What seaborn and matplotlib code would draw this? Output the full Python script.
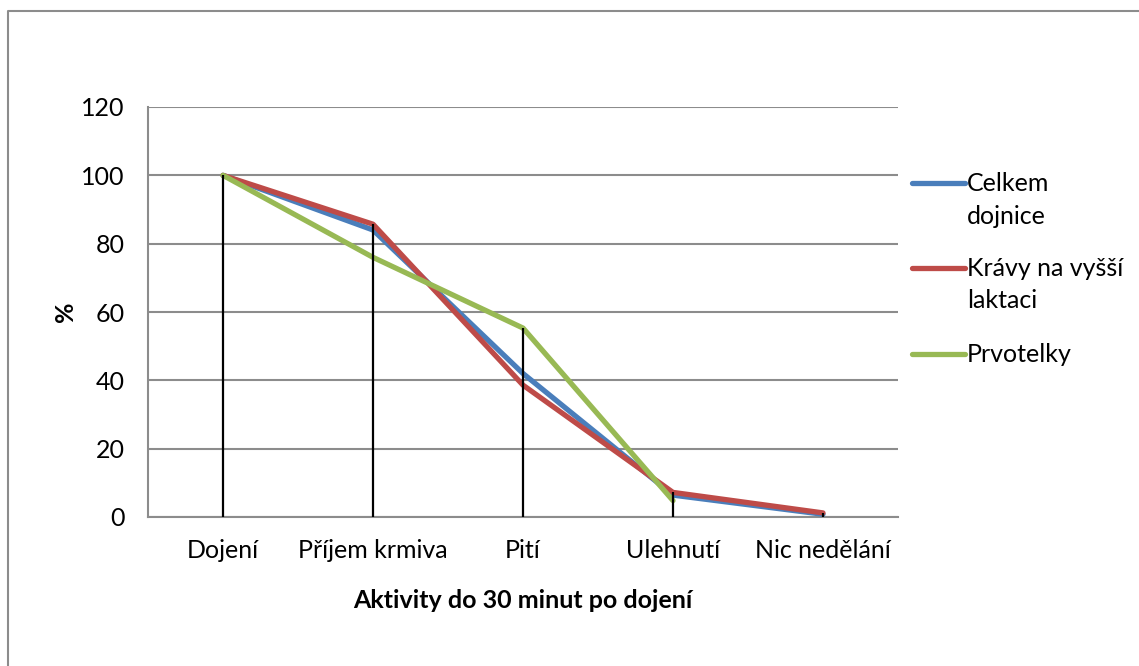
import matplotlib
matplotlib.use("Agg")
import matplotlib.pyplot as plt
from matplotlib.lines import Line2D
import numpy as np
import pandas as pd
import seaborn as sns

categories = ["Dojení", "Příjem krmiva", "Pití", "Ulehnutí", "Nic nedělání"]
celkem = [100, 84, 42, 6.4, 0.8]
kravy = [100, 85.7, 38.6, 7.2, 1.2]
prvotelky = [100, 76, 55.3, 4.8, np.nan]
series_names = ["Celkem dojnice", "Krávy na vyšší laktaci", "Prvotelky"]
legend_lines = [["Celkem", "dojnice"], ["Krávy na vyšší", "laktaci"], ["Prvotelky"]]
colors = ["#4a7ebb", "#be4b48", "#98b954"]
yticks = [0, 20, 40, 60, 80, 100, 120]

rows = []
for name, vals in zip(series_names, [celkem, kravy, prvotelky]):
    for i, (c, v) in enumerate(zip(categories, vals)):
        rows.append({"x": i, "kat": c, "val": v, "serie": name})
df = pd.DataFrame(rows)

sns.set_style("white")
plt.rcParams["font.family"] = ["Lato", "DejaVu Sans"]
plt.rcParams["text.color"] = "black"
plt.rcParams["xtick.color"] = "black"
plt.rcParams["ytick.color"] = "black"
plt.rcParams["axes.labelcolor"] = "black"

FS = 18
W, H = 1139, 666
fig = plt.figure(figsize=(W / 100, H / 100), dpi=100)
ax = fig.add_axes([148 / W, 1 - 517 / H, 750 / W, 410 / H])

sns.lineplot(data=df.dropna(), x="x", y="val", hue="serie", palette=colors,
             hue_order=series_names, lw=3.8, ax=ax, legend=False,
             solid_joinstyle="round", solid_capstyle="round", zorder=3)

maxv = df.groupby("x")["val"].max()
ax.vlines(maxv.index, 0, maxv.values, colors="black", lw=1.6, zorder=4)

ax.set_xlim(-0.5, len(categories) - 0.5)
ax.set_ylim(0, 120)
ax.set_yticks(yticks)
ax.set_yticklabels([str(t) for t in yticks], fontsize=FS)
ax.set_xticks(range(len(categories)))
ax.set_xticklabels(categories, fontsize=FS)
ax.grid(axis="y", color="#8c8c8c", lw=1.5)
ax.set_axisbelow(True)
for s in ["top", "right"]:
    ax.spines[s].set_visible(False)
for s in ["left", "bottom"]:
    ax.spines[s].set_color("#8c8c8c")
    ax.spines[s].set_linewidth(1.5)
ax.tick_params(axis="y", length=8, width=1.5, color="#8c8c8c", direction="out", pad=9,
               labelcolor="black")
ax.tick_params(axis="x", length=0, pad=16, labelcolor="black")
ax.set_xlabel("Aktivity do 30 minut po dojení", fontsize=FS, fontweight="bold", labelpad=19)
ax.set_ylabel("%", fontsize=FS, fontweight="bold", labelpad=3)

# legend
ys = [183, 268, 354]
for col, lines, y in zip(colors, legend_lines, ys):
    fig.add_artist(Line2D([912 / W, 965 / W], [1 - y / H, 1 - y / H], color=col, lw=3.8,
                          solid_capstyle="round", transform=fig.transFigure))
    for k, t in enumerate(lines):
        fig.text(967 / W, 1 - (y + 33 * k) / H, t, fontsize=FS, va="center", ha="left")

# border (top and left visible)
fig.add_artist(Line2D([8 / W, 8 / W, 1.0], [0, 1 - 11 / H, 1 - 11 / H], color="#8c8c8c",
                      lw=1.5, transform=fig.transFigure))

fig.savefig("out.png", dpi=100)
